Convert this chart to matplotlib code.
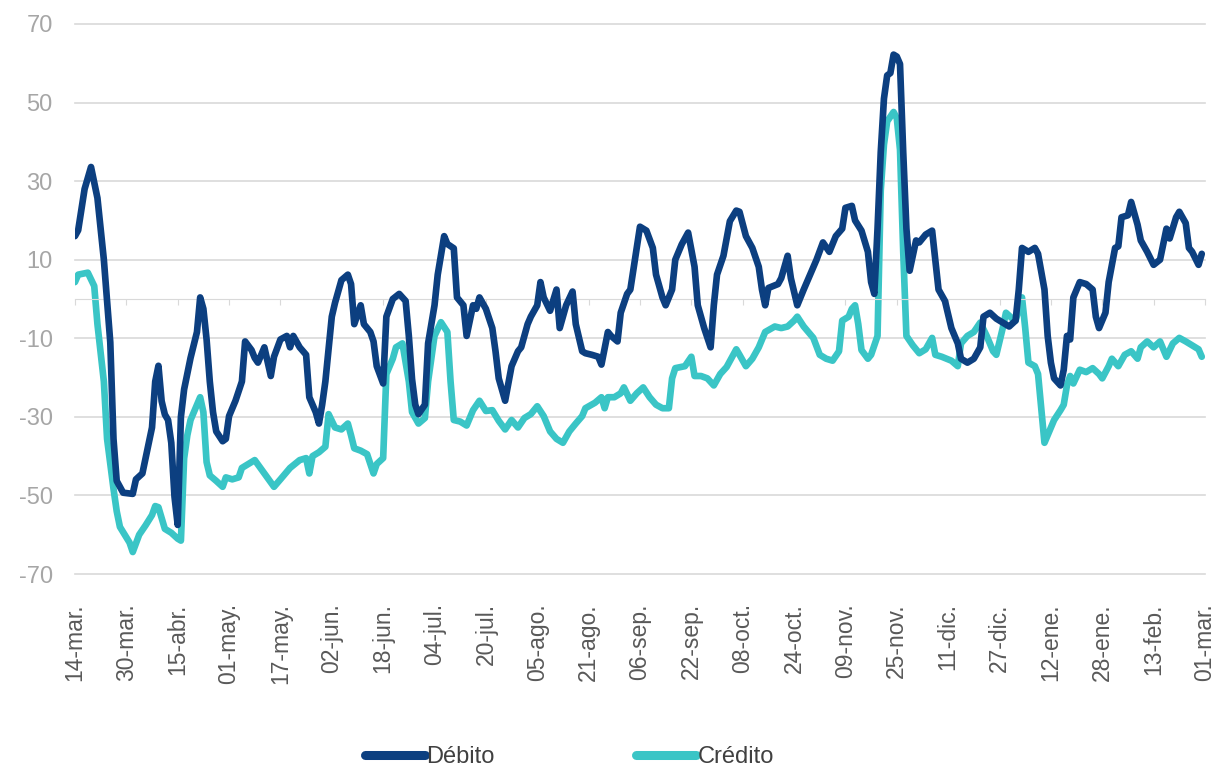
import matplotlib
matplotlib.use("Agg")
import matplotlib.pyplot as plt
import numpy as np

# Days since 14-mar (2020) and values
debito_days = [0, 1, 3, 5, 7, 9, 11, 12, 13, 15, 18, 19, 21, 22, 24, 25, 26, 27, 28, 29, 30, 31, 32, 33, 34, 35, 36,
               38, 39, 40, 41, 42, 43, 44, 46, 47, 48, 50, 52, 53, 55, 56, 57, 59, 61, 62, 64, 66, 67, 68, 70, 72, 73,
               75, 76, 77, 78, 80, 81, 83, 85, 86, 87, 89, 90, 92, 93, 94, 96, 97, 99, 101, 103, 104, 105, 106, 107,
               109, 110, 112, 113, 115, 116, 118, 119, 121, 122, 124, 125, 126, 128, 130, 131, 132, 134, 136, 138,
               139, 141, 142, 144, 145, 146, 148, 150, 151, 153, 155, 156, 158, 159, 161, 163, 164, 166, 167, 169,
               170, 172, 173, 175, 176, 178, 180, 181, 183, 184, 186, 187, 189, 191, 193, 194, 196, 198, 199, 200,
               202, 204, 206, 207, 209, 211, 213, 214, 215, 216, 219, 220, 222, 223, 225, 227, 229, 231, 233, 235,
               237, 239, 240, 242, 243, 245, 247, 248, 249, 250, 251, 252, 253, 254, 255, 256, 257, 258, 259, 260,
               262, 263, 265, 267, 268, 269, 271, 273, 275, 276, 278, 280, 282, 283, 285, 287, 289, 291, 293, 294,
               295, 297, 299, 300, 302, 303, 304, 305, 307, 308, 309, 310, 311, 313, 315, 317, 318, 319, 321, 322,
               324, 325, 326, 328, 329, 331, 332, 334, 336, 338, 340, 341, 343, 344, 346, 347, 348, 350, 351]
debito_vals = [16, 17.5, 28, 33.6, 25.7, 10, -11, -35.6, -46.3, -49.3, -49.6, -45.9, -44.4, -40.5, -32.7, -21, -17,
               -26, -29.4, -30.8, -36.6, -50.3, -57.5, -30, -23, -19, -15,
               -8.4, 0.4, -2.5, -10.3, -21, -28.8, -33.7, -36.2, -35.6, -29.8, -25.9, -21, -10.8, -13, -15, -16.2,
               -12.3, -19.6, -14.7, -10.3, -9.4, -12.3, -9.4, -12.3, -14.2, -25,
               -28.8, -31.7, -26.9, -21, -4.5, -1, 4.8, 6.2, 3.8, -6.4, -1.6, -6.4, -8.4, -10.8, -17.1, -21.5, -4.5,
               0, 1.3, -0.5, -9.4, -20.4, -26.9, -29.3,
               -26.9, -11.3, -1.6, 6.2, 16, 14, 12.9, 0.4, -1.6, -9.4, -1.6, -2.5, 0.4, -2.5, -7.4, -13.3, -20.2,
               -25.9, -17.1, -13.3,
               -12.3, -6.4, -4.5, -1.6, 4.3, 0.4, -3, 2.4, -7.4, -1.6, 1.9, -6.4, -13.3, -13.8, -14.2, -14.7, -16.7,
               -8.4, -9.4, -10.8,
               -3.5, 1.3, 2.4, 13, 18.4, 17.4, 13, 6.2, 0.4, -1.6, 2.4, 10, 13.9, 16.9, 8.2, -1.6, -7.4, -12.3,
               -1.6, 6.2,
               11, 19.8, 22.5, 22.2, 16, 13, 8.2, 2.4, -1.6, 2.8, 3.8, 5.3, 11, 5.3, -1.6, 2.4, 6.2, 10, 14.4, 12,
               16, 17.9, 23.2, 23.7, 20, 17.4, 12, 4.3, 1.3, 17.9, 37.4, 51, 56.9, 57.5, 62.2, 61.7, 59.8, 37.4,
               17.9, 7.2,
               14.9, 14.4, 16.4, 17.4, 10, 2.4, -0.5, -7.4, -11.3, -15.2, -16.2, -15.2, -12.3, -4.5, -3.5, -5, -6,
               -7, -5.5, 2.4,
               13, 12, 13, 11.5, 2.4, -9.4, -16.2, -20.2, -22, -18, -9.4, -10.3, 0.4, 4.3, 3.8, 2.4, -4.5, -7.4,
               -3.5, 4.3,
               13, 13.4, 20.8, 21.3, 24.7, 18.9, 14.9, 12, 8.7, 10, 17.9, 15.4, 20.8, 22.2, 19.3, 13, 12, 8.7, 11.5]

credito_days = [0, 1, 4, 6, 7, 9, 10, 12, 13, 14, 17, 18, 20, 22, 24, 25, 26, 28, 30, 32, 33, 34, 35, 36, 38, 39,
                40, 41, 42, 44, 46, 47, 49, 51, 52, 54, 56, 59, 62, 64, 67, 70, 72, 73, 74, 76, 78, 79, 81, 83, 85,
                86, 87, 89, 91, 93, 94, 96, 97, 99, 100, 102, 104, 105, 107, 109, 110, 112, 114, 116, 117, 118,
                120, 122, 124, 126, 128, 130, 132, 134, 136, 138, 140, 142, 144, 146, 148, 150, 152, 154, 156,
                158, 159, 162, 164, 165, 166, 168, 170, 171, 173, 175, 177, 179, 181, 183, 185, 186, 187, 190,
                192, 193, 195, 197, 199, 201, 203, 206, 207, 209, 211, 213, 215, 218, 220, 222, 224, 225, 227,
                230, 232, 234, 236, 238, 239, 241, 242, 243, 244, 245, 247, 248, 250, 251, 252, 253, 255, 256,
                257, 258, 259, 261, 263, 265, 267, 268, 270, 273, 275, 276, 278, 280, 282, 284, 286, 287, 289,
                290, 292, 293, 295, 296, 297, 299, 300, 301, 302, 304, 305, 307, 308, 309, 310, 311, 313, 315,
                317, 319, 320, 322, 323, 325, 327, 329, 331, 332, 334, 336, 338, 340, 342, 344, 346, 348, 350, 351]
credito_vals = [4.3, 6.2, 6.7, 3.3, -6.4, -21, -35.6, -48.3, -54, -58, -62, -64.4, -60, -57.6, -55, -52.7, -53,
                -58.5, -59.5, -61, -61.5, -40.6, -34.7, -30.8, -26.9, -25,
                -28.8, -41.5, -44.9, -46.3, -47.8, -45.4, -45.9, -45.4, -43, -42, -41, -44.4, -47.8, -45.9, -43,
                -41, -40.5, -44.4, -40, -39, -37.6, -29.3, -32.7, -33.2, -31.7,
                -34.7, -38, -38.6, -39.5, -44.4, -42, -40.5, -19.1, -15.2, -12.3, -11.3, -21, -28.8, -31.7, -30.3,
                -21, -9.4, -5.9, -8.4, -21, -30.8,
                -31.2, -32.2, -28.3, -25.9, -28.5, -28.3, -31, -33.2, -30.8, -32.7, -30.3, -29.3, -27.3, -29.8,
                -33.7, -35.6, -36.6, -33.7, -31.7,
                -29.8, -27.8, -26.4, -25, -27.8, -25, -25, -24, -22.5, -25.9, -24, -22.5, -25, -26.9, -27.8, -27.8,
                -20.2, -17.6, -17.1,
                -14.7, -19.6, -19.6, -20.2, -22, -19.1, -17.3, -12.8, -14.2, -17.1, -15.2, -12.3, -8.4, -7, -7.4,
                -7, -5.5, -4.5, -7,
                -9.9, -14.2, -15.2, -15.7, -13.3, -5.5, -4.5, -2.5, -1.6, -6.4, -13, -15.2, -14.2, -9.4, 27.6,
                39.3, 45.2, 47.6, 46,
                38, 12, -9.4, -11.8, -13.8, -12.8, -9.9, -14.2, -14.7, -15.7, -17.1, -11.3, -9.4, -8.4, -6, -9.4,
                -13.3, -14.2, -7.4,
                -3.5, -5, -5.5, 0.4, -7.4, -16.2, -17.1, -19.1, -28, -36.6, -32.7, -30.8, -28.3, -26.9, -22, -19.6,
                -21.5, -18, -18.6,
                -17.6, -19.1, -20.2, -17.1, -15.2, -17.1, -14.2, -13.3, -15.2, -12.3, -10.8, -12.3, -10.8, -14.7,
                -11.3, -9.9, -10.8, -11.8, -12.8, -14.7]

tick_days = list(range(0, 353, 16))
tick_labels = ["14-mar.", "30-mar.", "15-abr.", "01-may.", "17-may.", "02-jun.", "18-jun.", "04-jul.",
               "20-jul.", "05-ago.", "21-ago.", "06-sep.", "22-sep.", "08-oct.", "24-oct.", "09-nov.",
               "25-nov.", "11-dic.", "27-dic.", "12-ene.", "28-ene.", "13-feb.", "01-mar."]
y_ticks = [-70, -50, -30, -10, 10, 30, 50, 70]

plt.rcParams['font.family'] = ['Liberation Sans', 'DejaVu Sans']

fig = plt.figure(figsize=(12.19, 7.73), dpi=100)
ax = fig.add_axes([0.0615, 0.2574, 0.927, 0.7116])

c_deb = "#0C3F80"
c_cre = "#3AC5C6"
ax.plot(debito_days, debito_vals, color=c_deb, lw=4.8, solid_joinstyle='round', solid_capstyle='round',
        label="Débito", zorder=3)
ax.plot(credito_days, credito_vals, color=c_cre, lw=4.8, solid_joinstyle='round', solid_capstyle='round',
        label="Crédito", zorder=2)

ax.set_xlim(0, 352)
ax.set_ylim(-70, 70)
ax.set_yticks(y_ticks)
ax.set_yticklabels([str(v) for v in y_ticks])
ax.tick_params(axis='y', length=0, pad=16, labelsize=17, labelcolor="#A6A6A6")
ax.grid(axis='y', color="#D9D9D9", lw=1.2)
for gl in ax.get_ygridlines():
    gl.set_clip_on(False)
ax.set_axisbelow(True)
for s in ['top', 'right', 'left']:
    ax.spines[s].set_visible(False)
ax.spines['bottom'].set_position(('data', 0))
ax.spines['bottom'].set_color("#D9D9D9")
ax.set_xticks(tick_days)
ax.tick_params(axis='x', length=4, color="#D9D9D9", direction='out', labelbottom=False)

sec = ax.secondary_xaxis('bottom')
sec.set_xticks(tick_days)
sec.set_xticklabels(tick_labels, rotation=90)
sec.tick_params(length=0, pad=21, labelsize=16.5, labelcolor="#595959")
sec.spines['bottom'].set_visible(False)

leg = fig.legend(loc='center', bbox_to_anchor=(0.467, 0.021), ncol=2, frameon=False, fontsize=17,
                 handlelength=2.55, handletextpad=0.05, columnspacing=6.0)
for t in leg.get_texts():
    t.set_color("#404040")
for h in leg.legend_handles:
    h.set_linewidth(6.5)

fig.savefig("out.png", dpi=100)
